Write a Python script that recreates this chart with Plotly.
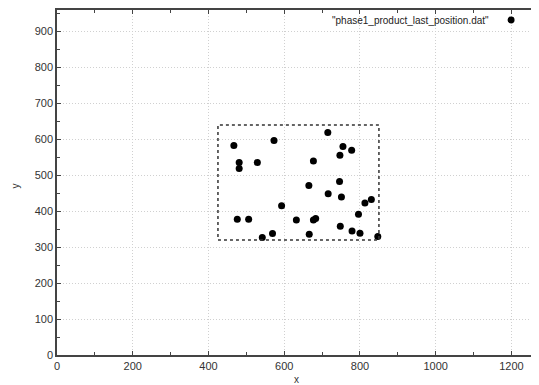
import plotly.graph_objects as go

# Data
x_vals = [467, 573, 715, 481, 481, 529, 677, 747, 755, 778,
          665, 746, 716, 751, 813, 830, 593, 796, 476, 506,
          632, 677, 683, 748, 779, 800, 847, 569, 666, 542]
y_vals = [583, 597, 619, 536, 519, 536, 540, 556, 580, 570,
          472, 483, 449, 440, 423, 433, 415, 392, 378, 378,
          376, 376, 380, 358, 345, 339, 330, 338, 336, 327]
box_x = [425, 850]
box_y = [320, 640]
series_name = '"phase1_product_last_position.dat"'
x_ticks = [0, 200, 400, 600, 800, 1000, 1200]
y_ticks = [0, 100, 200, 300, 400, 500, 600, 700, 800, 900]

axis_color = "#444444"
font_family = "Liberation Sans, Arial, sans-serif"

fig = go.Figure()
fig.add_trace(go.Scatter(
    x=x_vals, y=y_vals, mode="markers",
    marker=dict(color="black", size=7, symbol="circle"),
    name=series_name, showlegend=False,
))

fig.add_shape(type="rect", xref="x", yref="y",
              x0=box_x[0], x1=box_x[1], y0=box_y[0], y1=box_y[1],
              line=dict(color="#333333", width=1.5, dash="dot"))

# legend key (text + marker on the right, gnuplot style)
fig.add_annotation(xref="paper", yref="paper", x=0.902, y=0.971,
                   text=series_name, showarrow=False, xanchor="right", yanchor="middle",
                   font=dict(family=font_family, size=10, color="#222222"))
fig.add_shape(type="circle", xref="paper", yref="paper",
              x0=0.9367, x1=0.9513, y0=0.961, y1=0.981,
              fillcolor="black", line=dict(color="black", width=0))

# axis titles
fig.add_annotation(xref="paper", yref="paper", x=0.497, y=-0.072, text="x",
                   showarrow=False, xanchor="center", yanchor="middle",
                   font=dict(family=font_family, size=10, color="#333333"))
fig.add_annotation(xref="paper", yref="paper", x=-0.086, y=0.49, text="y",
                   showarrow=False, xanchor="center", yanchor="middle", textangle=-90,
                   font=dict(family=font_family, size=10, color="#333333"))

common = dict(
    showline=True, linecolor=axis_color, linewidth=1.5, mirror="ticks",
    ticks="inside", ticklen=4, tickcolor=axis_color, tickwidth=1,
    showgrid=True, gridcolor="#d0d0d0", griddash="1px,2px", gridwidth=1,
    zeroline=False, automargin=False,
    tickfont=dict(family=font_family, size=11, color="#333333"),
)

fig.update_xaxes(range=[0, 1270], tickvals=x_ticks, **common,
                 minor=dict(ticks="inside", dtick=100, ticklen=3, tickcolor=axis_color, showgrid=False))
fig.update_yaxes(range=[0, 960], tickvals=y_ticks, **common,
                 minor=dict(ticks="inside", dtick=50, ticklen=3, tickcolor=axis_color, showgrid=False))

# page body has an 8px margin, so the figure is sized/offset to land where the reference plot is
fig.update_layout(
    width=531, height=377,
    margin=dict(l=49, r=1, t=2, b=30),
    plot_bgcolor="white", paper_bgcolor="white",
    showlegend=False,
)

fig.write_html("out.html")
